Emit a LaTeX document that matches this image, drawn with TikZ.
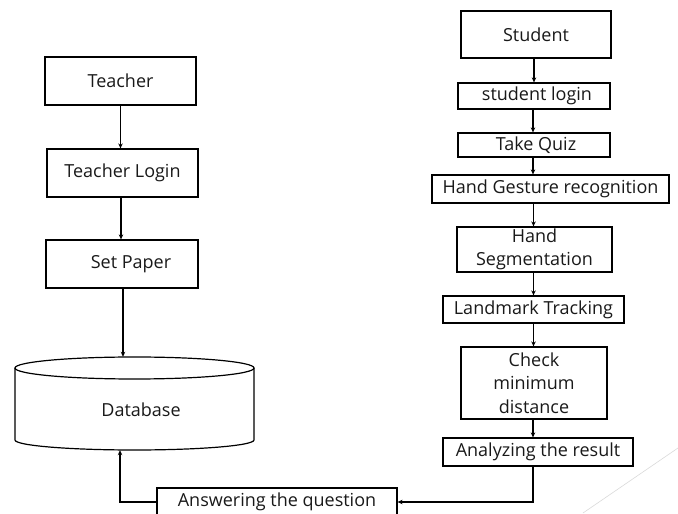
\documentclass[tikz,border=0pt]{standalone}
\usepackage{fontspec}
\setmainfont{Open Sans}
\usetikzlibrary{arrows.meta}
\begin{document}
\begin{tikzpicture}[x=1pt,y=1pt,
  txt/.style={font=\fontsize{18}{23.5}\selectfont, text=black!90},
  box/.style={draw, line width=1.2pt, inner sep=0pt, align=center, txt},
  arr/.style={line width=1.1pt, -{Stealth[length=5pt,width=4.5pt]}},
  ln/.style={line width=1.2pt}]
\useasboundingbox (0,0) rectangle (678,514);
% left column
\node[box, minimum width=151, minimum height=48] (teacher) at (120.5,433) {Teacher};
\node[box, minimum width=151, minimum height=48] (tlogin) at (122.5,341) {Teacher Login};
\node[box, minimum width=152, minimum height=48] (paper) at (122,250) {\hspace{18pt}Set Paper};
% database
\node[inner sep=0pt, minimum width=239, minimum height=93] (db) at (134.5,110.5) {};
\node[txt] (dbtext) at (141,104) {Database};
\draw[ln] (15,146) -- (15,74) arc[start angle=180, end angle=360, x radius=119.5, y radius=10] -- (254,146);
\draw[ln, fill=white] (134.5,146) ellipse [x radius=119.5, y radius=11];
% answer
\node[box, minimum width=240, minimum height=28] (answer) at (277,12) {Answering the question};
% right column
\node[box, minimum width=150, minimum height=47] (student) at (536,479.5) {Student};
\node[box, minimum width=152, minimum height=26] (slogin) at (534,418) {\hspace{6pt}student login};
\node[box, minimum width=152, minimum height=24] (quiz) at (534,369) {\hspace{4pt}Take Quiz};
\node[box, minimum width=237, minimum height=28] (gesture) at (550.5,325) {Hand Gesture recognition};
\node[box, minimum width=155, minimum height=45] (segm) at (534.5,264.5) {Hand\\Segmentation};
\node[box, minimum width=181, minimum height=27] (landmark) at (533.5,204.5) {Landmark Tracking};
\node[box, minimum width=146, minimum height=72] (check) at (534,131) {Check\\minimum\\distance};
\node[box, minimum width=190, minimum height=28] (analyze) at (538,62) {Analyzing the result};
% connectors left
\draw[arr] (teacher.south) -- (teacher.south |- tlogin.north);
\draw[arr] ([xshift=-1.5pt]tlogin.south) -- ([xshift=-1.5pt]tlogin.south |- paper.north);
\draw[arr] ([xshift=1pt]paper.south) -- ([xshift=1pt]paper.south |- db.north);
\draw[arr] (answer.west) -| ([xshift=-14.5pt]db.south);
% connectors right
\draw[arr] ([xshift=-2pt]student.south) -- ([xshift=-2pt]student.south |- slogin.north);
\draw[arr] ([xshift=-1pt]slogin.south) -- ([xshift=-1pt]slogin.south |- quiz.north);
\draw[arr] ([xshift=-1pt]quiz.south) -- ([xshift=-1pt]quiz.south |- gesture.north);
\draw[arr] ([xshift=-17pt]gesture.south) -- ([xshift=-17pt]gesture.south |- segm.north);
\draw[arr] ([xshift=-1pt]segm.south) -- ([xshift=-1pt]segm.south |- landmark.north);
\draw[arr] ([xshift=0pt]landmark.south) -- ([xshift=0pt]landmark.south |- check.north);
\draw[arr] ([xshift=-1pt]check.south) -- ([xshift=-1pt]check.south |- analyze.north);
\draw[arr] ([xshift=-5pt]analyze.south) |- (answer.east);
% faint decorative line
\draw[black!15, line width=0.6pt] (583,1) -- (678,66);
\end{tikzpicture}
\end{document}
